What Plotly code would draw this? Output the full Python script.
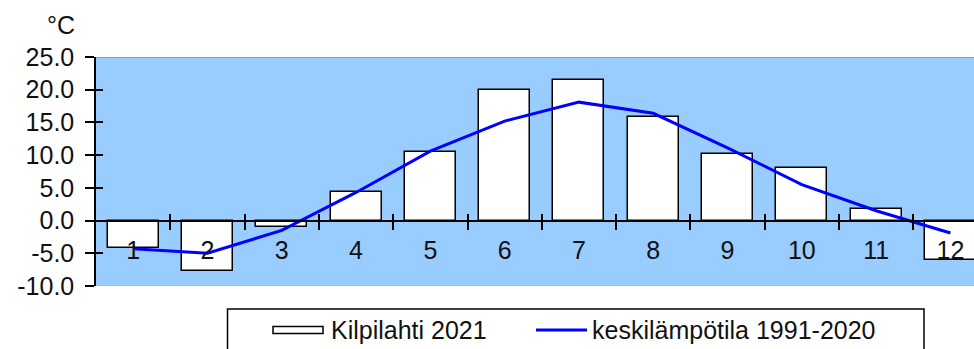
import plotly.graph_objects as go

months = [1, 2, 3, 4, 5, 6, 7, 8, 9, 10, 11, 12]
month_labels = ["1", "2", "3", "4", "5", "6", "7", "8", "9", "10", "11", "12"]
kilpilahti_2021 = [-4.2, -7.7, -1.0, 4.4, 10.5, 20.0, 21.5, 15.8, 10.2, 8.0, 1.8, -6.0]
mean_1991_2020 = [-4.3, -5.0, -1.5, 4.3, 10.6, 15.2, 18.1, 16.4, 11.1, 5.5, 1.5, -1.9]
y_ticks = [-10, -5, 0, 5, 10, 15, 20, 25]
bar_name = "Kilpilahti 2021"
line_name = "keskilämpötila 1991-2020"

W, H = 974, 349
ML, MR, MT, MB = 96, 0, 57, 63
PX_PER_CAT = 74.3
YMIN, YMAX = -10, 25
x_end = 0.5 + (W - ML - MR) / PX_PER_CAT
FONT = "Liberation Sans, Arial, sans-serif"
FS = 25
TXT = "#111111"

plot_w = W - ML - MR
plot_h = H - MT - MB
zero_pos = (0 - YMIN) / (YMAX - YMIN)

def px(x):
    return (x - ML) / plot_w

def py(y):
    return (H - MB - y) / plot_h

fig = go.Figure()
fig.add_trace(go.Bar(x=months, y=kilpilahti_2021, name=bar_name, width=0.686,
                     marker=dict(color="white", line=dict(color="black", width=1.5)),
                     showlegend=False))
fig.add_trace(go.Scatter(x=months, y=mean_1991_2020, name=line_name, mode="lines",
                         line=dict(color="#0000ff", width=3), showlegend=False))
# dummy traces so the overlay axes exist
for xa, ya in [("x2", "y"), ("x3", "y"), ("x", "y2")]:
    fig.add_trace(go.Scatter(x=[None], y=[None], xaxis=xa, yaxis=ya, showlegend=False,
                             hoverinfo="skip"))

between = [m + 0.5 for m in months[:-1]]
common_x = dict(range=[0.5, x_end], showgrid=False, zeroline=False, anchor="free",
                position=zero_pos)
fig.update_layout(
    width=W, height=H,
    margin=dict(l=ML, r=MR, t=MT, b=MB, pad=0),
    paper_bgcolor="white", plot_bgcolor="#99ccff",
    font=dict(family=FONT, size=FS, color=TXT),
    bargap=0,
    xaxis=dict(**common_x, tickmode="array", tickvals=months, ticktext=month_labels,
               ticks="", showline=True, linecolor="black", linewidth=1.5,
               ticklabelstandoff=8, tickfont=dict(size=FS, family=FONT, color=TXT)),
    xaxis2=dict(**common_x, overlaying="x", tickmode="array", tickvals=between,
                ticks="outside", ticklen=8, tickwidth=1.5, tickcolor="black",
                showticklabels=False, showline=False),
    xaxis3=dict(**common_x, overlaying="x", tickmode="array", tickvals=between,
                ticks="inside", ticklen=7, tickwidth=1.5, tickcolor="black",
                showticklabels=False, showline=False),
    yaxis=dict(range=[YMIN, YMAX], tickmode="array", tickvals=y_ticks,
               ticktext=[f"{v:.1f}" for v in y_ticks], ticks="outside", ticklen=9,
               tickwidth=1.5, tickcolor="black", showline=True, linecolor="black",
               linewidth=1.5, showgrid=False, zeroline=False, ticklabelstandoff=6,
               tickfont=dict(size=FS, family=FONT, color=TXT)),
    yaxis2=dict(range=[YMIN, YMAX], overlaying="y", tickmode="array", tickvals=y_ticks,
                ticks="inside", ticklen=7, tickwidth=1.5, tickcolor="black",
                showticklabels=False, showline=False, showgrid=False, zeroline=False),
)

shapes = [
    dict(type="line", xref="paper", yref="y", x0=0, x1=1.02, y0=YMAX, y1=YMAX,
         line=dict(color="#999999", width=2), layer="above"),
    dict(type="line", xref="paper", yref="y", x0=0, x1=1.02, y0=YMIN, y1=YMIN,
         line=dict(color="#b4b4b4", width=1.5), layer="above"),
    # legend box
    dict(type="rect", xref="paper", yref="paper", x0=px(227.5), x1=px(924),
         y0=py(309), y1=py(370), line=dict(color="black", width=1.5), fillcolor="white"),
    dict(type="rect", xref="paper", yref="paper", x0=px(273), x1=px(323),
         y0=py(326.5), y1=py(333.5), line=dict(color="black", width=1.5), fillcolor="white"),
    dict(type="line", xref="paper", yref="paper", x0=px(536), x1=px(587),
         y0=py(330), y1=py(330), line=dict(color="#0000ff", width=3)),
]
annotations = [
    dict(text="°C", xref="paper", yref="paper", x=px(61), y=py(25), showarrow=False,
         xanchor="center", yanchor="middle", font=dict(size=FS, family=FONT, color=TXT)),
    dict(text=bar_name, xref="paper", yref="paper", x=px(329), y=py(330), showarrow=False,
         xanchor="left", yanchor="middle", font=dict(size=FS, family=FONT, color=TXT)),
    dict(text=line_name, xref="paper", yref="paper", x=px(590), y=py(330), showarrow=False,
         xanchor="left", yanchor="middle", font=dict(size=FS, family=FONT, color=TXT)),
]
fig.update_layout(shapes=shapes, annotations=annotations)

fig.write_html("out.html")
